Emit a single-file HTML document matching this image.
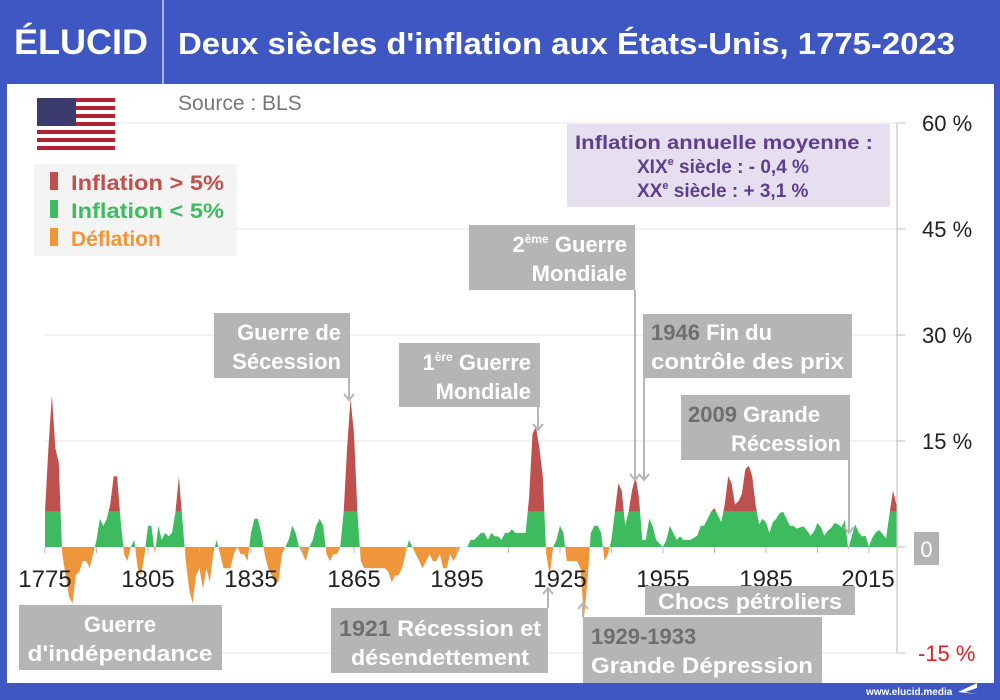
<!DOCTYPE html>
<html><head><meta charset="utf-8"><style>
html,body{margin:0;padding:0;}
body{width:1000px;height:700px;overflow:hidden;background:#3f57c2;font-family:"Liberation Sans",sans-serif;}
svg{display:block}
</style></head><body>
<svg id="s" width="1000" height="700" viewBox="0 0 1000 700" xmlns="http://www.w3.org/2000/svg" font-family="Liberation Sans, sans-serif">
<rect x="0" y="0" width="1000" height="700" fill="#3f57c2"/>
<rect x="7" y="84" width="987" height="599" fill="#fff"/>
<line x1="163" y1="0" x2="163" y2="84" stroke="#c8d0f0" stroke-width="1.5"/>
<text x="14" y="54" fill="#fff" font-size="35" font-weight="bold" textLength="134" lengthAdjust="spacingAndGlyphs">ÉLUCID</text>
<text x="178" y="54" fill="#fff" font-size="31" font-weight="bold" textLength="777" lengthAdjust="spacingAndGlyphs">Deux siècles d'inflation aux États-Unis, 1775-2023</text>
<text x="178" y="110" fill="#777" font-size="21">Source : BLS</text>
<!-- grid -->
<g stroke="#e6e6e6" stroke-width="1">
<line x1="115" y1="123" x2="897" y2="123"/><line x1="45" y1="229" x2="897" y2="229"/>
<line x1="45" y1="335" x2="897" y2="335"/><line x1="45" y1="441" x2="897" y2="441"/>
<line x1="45" y1="653" x2="897" y2="653"/>
</g>
<g stroke="#bbb" stroke-width="1">
<line x1="897" y1="123" x2="897" y2="653"/>
<line x1="897" y1="123" x2="905" y2="123"/><line x1="897" y1="229" x2="905" y2="229"/>
<line x1="897" y1="335" x2="905" y2="335"/><line x1="897" y1="441" x2="905" y2="441"/>
<line x1="897" y1="547" x2="905" y2="547"/><line x1="897" y1="653" x2="905" y2="653"/>
</g>
<g font-size="22" fill="#222">
<text x="922" y="131">60 %</text><text x="922" y="237">45 %</text>
<text x="922" y="343">30 %</text><text x="922" y="449">15 %</text>
<text x="918" y="661" fill="#e02020">-15 %</text>
</g>
<rect x="914" y="532" width="25" height="33" fill="#b3b3b3"/>
<text x="926.5" y="557" fill="#fff" font-size="22" text-anchor="middle">0</text>
<defs>
<clipPath id="cr"><rect x="0" y="0" width="1000" height="511.6"/></clipPath>
<clipPath id="cg"><rect x="0" y="511.6" width="1000" height="35.4"/></clipPath>
<clipPath id="co"><rect x="0" y="547" width="1000" height="200"/></clipPath>
</defs>
<g id="area"></g>
<g id="xt" stroke="#bbb"></g>
<g font-size="24" fill="#222" text-anchor="middle">
<text x="45" y="587">1775</text><text x="148" y="587">1805</text><text x="251" y="587">1835</text>
<text x="354" y="587">1865</text><text x="457" y="587">1895</text><text x="560" y="587">1925</text>
<text x="663" y="587">1955</text><text x="766" y="587">1985</text><text x="868" y="587">2015</text>
</g>
<!-- flag -->
<g>
<rect x="37" y="98" width="78" height="52" fill="#fff"/>
<g fill="#b22234">
<rect x="37" y="98" width="78" height="4"/><rect x="37" y="106" width="78" height="4"/>
<rect x="37" y="114" width="78" height="4"/><rect x="37" y="122" width="78" height="4"/>
<rect x="37" y="130" width="78" height="4"/><rect x="37" y="138" width="78" height="4"/>
<rect x="37" y="146" width="78" height="4"/>
</g>
<rect x="37" y="98" width="39" height="28" fill="#3c3b6e"/>
</g>
<!-- legend -->
<rect x="34" y="164" width="203" height="92" fill="#f4f4f4"/>
<rect x="50" y="172" width="8" height="18" fill="#c0504d"/>
<rect x="50" y="200" width="8" height="18" fill="#3dbb5e"/>
<rect x="50" y="228" width="8" height="18" fill="#f0963a"/>
<g font-size="21" font-weight="bold">
<text x="71" y="190" fill="#c0504d" textLength="153" lengthAdjust="spacingAndGlyphs">Inflation &gt; 5%</text>
<text x="71" y="218" fill="#3dbb5e" textLength="153" lengthAdjust="spacingAndGlyphs">Inflation &lt; 5%</text>
<text x="71" y="246" fill="#f0963a">Déflation</text>
</g>
<!-- avg box -->
<rect x="567" y="124" width="323" height="83" fill="#e6dff0"/>
<g fill="#5e3e8e" font-size="19" font-weight="bold">
<text x="575" y="149" textLength="298" lengthAdjust="spacingAndGlyphs">Inflation annuelle moyenne :</text>
<text x="637" y="173">XIX<tspan font-size="11" dy="-8">e</tspan><tspan dy="8"> siècle : -  0,4 %</tspan></text>
<text x="637" y="197">XX<tspan font-size="11" dy="-8">e</tspan><tspan dy="8">  siècle : + 3,1  %</tspan></text>
</g>
<!-- annotations -->
<g fill="#b5b5b5">
<rect x="214" y="313" width="136" height="65"/>
<rect x="399" y="343" width="141" height="64"/>
<rect x="469" y="225" width="166" height="65"/>
<rect x="643" y="314" width="209" height="64"/>
<rect x="681" y="395" width="169" height="65"/>
<rect x="19" y="605" width="203" height="65"/>
<rect x="331" y="608" width="217" height="65"/>
<rect x="645" y="586" width="210" height="29"/>
<rect x="583" y="617" width="239" height="66"/>
</g>
<g stroke="#b5b5b5" stroke-width="2" fill="none">
<path d="M349 378 V400 M344 394 L349 400 L354 394"/>
<path d="M538 407 V430 M533 424 L538 430 L543 424"/>
<path d="M635 290 V480 M630 474 L635 480 L640 474"/>
<path d="M644 378 V480 M639 474 L644 480 L649 474"/>
<path d="M849 460 V533 M844 527 L849 533 L854 527"/>
<path d="M548 608 V588 M543 594 L548 588 L553 594"/>
<path d="M583 617 V603 M578 609 L583 603 L588 609"/>
</g>
<g fill="#fff" font-size="22" font-weight="bold" text-anchor="end">
<text x="341" y="340">Guerre de</text><text x="341" y="369">Sécession</text>
<text x="531" y="370"><tspan>1</tspan><tspan font-size="12" dy="-9">ère</tspan><tspan dy="9"> Guerre</tspan></text><text x="531" y="399">Mondiale</text>
<text x="627" y="252"><tspan>2</tspan><tspan font-size="12" dy="-9">ème</tspan><tspan dy="9"> Guerre</tspan></text><text x="627" y="281">Mondiale</text>
<text x="841" y="451">Récession</text>
</g>
<g fill="#fff" font-size="22" font-weight="bold">
<text x="651" y="340"><tspan fill="#6e6e6e">1946</tspan> Fin du</text>
<text x="651" y="369" textLength="193" lengthAdjust="spacingAndGlyphs">contrôle des prix</text>
<text x="688" y="422"><tspan fill="#6e6e6e">2009</tspan> Grande</text>
<text x="339" y="636" textLength="202" lengthAdjust="spacingAndGlyphs"><tspan fill="#6e6e6e">1921</tspan> Récession et</text>
<text x="591" y="644" fill="#6e6e6e">1929-1933</text>
<text x="591" y="673" textLength="222" lengthAdjust="spacingAndGlyphs">Grande Dépression</text>
</g>
<g fill="#fff" font-size="22" font-weight="bold" text-anchor="middle">
<text x="120" y="632">Guerre</text><text x="120" y="661" textLength="185" lengthAdjust="spacingAndGlyphs">d'indépendance</text>
<text x="440" y="665" textLength="178" lengthAdjust="spacingAndGlyphs">désendettement</text>
<text x="750" y="609" textLength="184" lengthAdjust="spacingAndGlyphs">Chocs pétroliers</text>
</g>
<text x="866" y="695" fill="#fff" font-size="10" font-weight="bold">www.elucid.media</text>
<path d="M958 692 L977 683 L977 688 L965 692 L977 694 Z" fill="#fff"/>
</svg>
<script>
var d=[5,14,21.5,14,12,-1,-4,-7,-8,-4,-3.5,-2,-2,-3,-1,1,4,3,4,6,10,10,4,-1,-2,0,1,-3,-4,-1,3,3,-1,3,1,2,1.5,2,5,10,4,-2,-6,-8,-4,-3,-6,-3,-5,-1,1,-1,-3,-3,-3,-1,0,-1,-1,-2,2,4,4,2,-1,-3,-4,-5,-5,-1,0,1,3,2,0,-1,-2,0,1,3,4,3,-1,-2,-1,-1,0,5,14,21,16,5,-2,-3,-3,-3,-3,-3,-3,-3,-3.5,-5,-4,-4,-3,-1,1,0,-1,-2,-3,-2,-1,-2,-2,-1,-3,-3,-1,-2,-1,0,0,0,1,1,1.5,2,2,1,2,1.5,1.5,1,2,2,2.5,2,2,2,2,7,16,17,14,10,-1,-4,0,1,3,2,-2,-2,-2,-2,-3,-10,-5,2,3,3,2,-2,-1,1,5,9,8,3,5,8,10,7,1,1,4,3,1,0.5,0,1,3,2,1,1.5,1,1,1,1.3,1.6,3,3,4,5,5.5,4.5,3.5,6,10,9,6,6.5,7.5,11,11.5,10,6,3.2,4,3.5,2,3.5,4,4.8,5,4,3,3,2.6,2.8,2.9,2.3,1.6,2.2,3.4,2.8,1.6,2.3,2.7,3.4,3.2,2.8,3.8,-0.4,1.6,3.2,2.1,1.5,1.6,0.1,1.3,2.1,2.4,1.8,1.2,4.7,8,6];
var X=function(y){return 45+(y-1775)*3.433;},Y=function(v){return 547-v*7.067;};
var p="M"+X(1775)+" 547";
for(var i=0;i<d.length;i++){p+=" L"+X(1775+i).toFixed(1)+" "+Y(d[i]).toFixed(1);}
p+=" L"+X(1775+d.length-1).toFixed(1)+" 547 Z";
var ns="http://www.w3.org/2000/svg",g=document.getElementById("area");
[["cr","#c0504d"],["cg","#3dbb5e"],["co","#f0963a"]].forEach(function(c){
var e=document.createElementNS(ns,"path");e.setAttribute("d",p);e.setAttribute("fill",c[1]);e.setAttribute("clip-path","url(#"+c[0]+")");e.setAttribute("stroke-linejoin","round");g.appendChild(e);});
var xt=document.getElementById("xt");
for(var y=1775;y<=2015;y+=15){var l=document.createElementNS(ns,"line");l.setAttribute("x1",X(y));l.setAttribute("x2",X(y));l.setAttribute("y1",547);l.setAttribute("y2",553);xt.appendChild(l);}
</script>
</body></html>
